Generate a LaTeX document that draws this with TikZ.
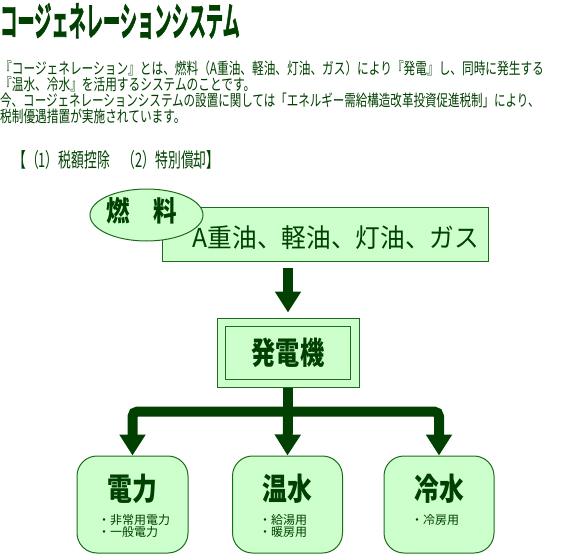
\documentclass[tikz,border=0pt]{standalone}
\usepackage{fontspec}
\newfontfamily\jp{Noto Sans CJK JP}
\newfontfamily\jpheavy[FakeBold=2]{Noto Sans CJK JP Bold}
\usetikzlibrary{positioning, arrows.meta, shapes.geometric}
\definecolor{leaf}{HTML}{CCFFCC}
\definecolor{forest}{HTML}{004000}
\definecolor{rim}{HTML}{1E6B1E}
\newcommand{\narrowtxt}[2]{\scalebox{#1}[1]{#2}}

\begin{document}
\begin{tikzpicture}[
    x=1pt, y=-1pt,
    line/.style={draw=forest, line width=10pt},
    flow/.style={line, -{Triangle[width=25pt, length=21pt]}},
    panel/.style={rectangle, draw=rim, line width=1pt, fill=leaf},
    result/.style={panel, rounded corners=20pt,
                   minimum width=111pt, minimum height=97pt},
    para/.style={anchor=west, inner sep=0pt, text=forest,
                 font=\jp\fontsize{16}{16}\selectfont},
    head/.style={inner sep=0pt, text=forest,
                 font=\jp\bfseries\fontsize{31}{31}\selectfont},
    item/.style={anchor=north, inner sep=0pt, text=forest, align=left,
                 font=\jp\fontsize{12}{12.5}\selectfont}
]
  \useasboundingbox (0,0) rectangle (563,554);

  % Heading and explanation
  \node[para, font=\jpheavy\fontsize{40}{40}\selectfont] (title) at (0,21)
    {\narrowtxt{0.43}{コージェネレーションシステム}};
  \node[para] (row1) at (0,68) {\narrowtxt{0.73}{『コージェネレーション』とは、燃料（A重油、軽油、灯油、ガス）により『発電』し、同時に発生する}};
  \node[para] (row2) at (0,84) {\narrowtxt{0.73}{『温水、冷水』を活用するシステムのことです。}};
  \node[para] (row3) at (0,100) {\narrowtxt{0.72}{今、コージェネレーションシステムの設置に関しては「エネルギー需給構造改革投資促進税制」により、}};
  \node[para] (row4) at (0,116) {\narrowtxt{0.73}{税制優遇措置が実施されています。}};
  \node[para, font=\jp\fontsize{20}{20}\selectfont] (tax) at (13,160)
    {\narrowtxt{0.64}{【（1）税額控除　（2）特別償却】}};

  % Fuel
  \node[panel, minimum width=326pt, minimum height=54pt] (fuel) at (325,234) {};
  \node[text=forest, inner sep=0pt, font=\jp\fontsize{26}{26}\selectfont] (oils) at (336,238)
    {\narrowtxt{0.95}{A重油、軽油、灯油、ガス}};
  \node[panel, ellipse, minimum width=113pt, minimum height=52pt] (fuelname) at (146.5,215) {};
  \node[head, font=\jp\bfseries\fontsize{28}{28}\selectfont] (fuelword) at (142,210.5)
    {\narrowtxt{0.84}{燃　料}};

  % Generator
  \node[panel, minimum width=142pt, minimum height=69pt] (gen) at (288,352.5) {};
  \node[panel, minimum width=125pt, minimum height=53pt, text=forest,
        font=\jp\bfseries\fontsize{31}{31}\selectfont] (genname) at (gen)
    {\narrowtxt{0.78}{発電機}};

  % Outputs
  \node[result] (power) at (132.5,504.5) {};
  \node[result, minimum width=110pt] (hot) at (287.5,504.5) {};
  \node[result, minimum width=110pt] (cold) at (439,504.5) {};
  \node[head] (powerhead) at (132.5,488.5) {\narrowtxt{0.8}{電力}};
  \node[head] (hothead) at (287.5,488.5) {\narrowtxt{0.8}{温水}};
  \node[head] (coldhead) at (439,488.5) {\narrowtxt{0.8}{冷水}};
  \node[item] (poweruse) at (134,514) {・非常用電力\\・一般電力};
  \node[item] (hotuse) at (283,514) {・給湯用\\・暖房用};
  \node[item] (colduse) at (435,514) {・冷房用};

  % Arrows
  \draw[flow, shorten <=6pt, shorten >=5pt] (fuel.south -| gen.north) -- (gen.north);
  \coordinate[below=24pt of gen.south] (split);
  \draw[line] (gen.south) -- (split);
  \draw[flow, rounded corners=5pt] (split) -| (power.north);
  \draw[flow, rounded corners=5pt] (split) -| (cold.north);
  \draw[flow] (split) -- (hot.north);
\end{tikzpicture}
\end{document}
